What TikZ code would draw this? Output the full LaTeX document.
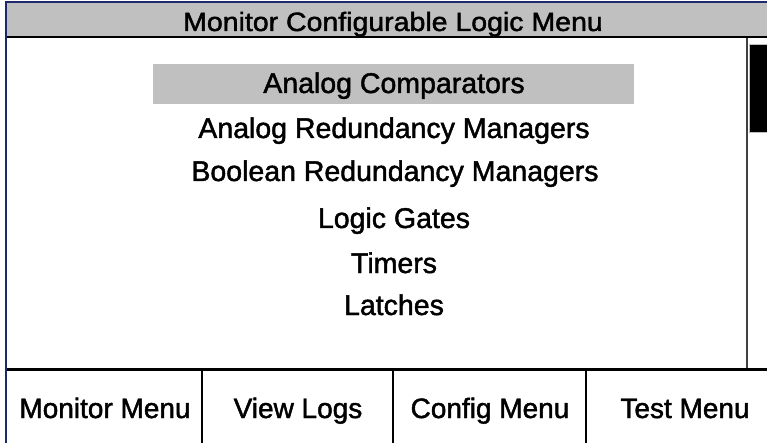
\documentclass[tikz,border=0pt]{standalone}
\usepackage{fontspec}
\setmainfont{Liberation Sans}
\newfontfamily\panelfont{Liberation Sans}[FakeBold=1.6]
\definecolor{bargray}{HTML}{C0C0C0}
\definecolor{navy}{HTML}{1C2A6B}
\tikzset{
  item/.style={anchor=base, inner sep=0pt, font=\panelfont\fontsize{28.5}{30}\selectfont},
  btn/.style={anchor=base, inner sep=0pt, font=\panelfont\fontsize{28}{30}\selectfont},
  sep/.style={line width=2pt, black},
}
\begin{document}
\begin{tikzpicture}[x=1pt,y=-1pt]
\useasboundingbox (0,0) rectangle (767,443);
% title bar
\fill[bargray] (7,3) rectangle (767,36);
\node[anchor=base, inner sep=0pt, font=\panelfont\fontsize{26.5}{28}\selectfont] (title) at (393,31) {\scalebox{1.075}[1]{Monitor Configurable Logic Menu}};
\draw[line width=2.5pt] (7,37) -- (767,37);
% outer border
\draw[navy, line width=2pt] (6,443) -- (6,2) -- (767,2);
% highlight
\fill[bargray] (153,64) rectangle (634,104);
\node[item] (i1) at (394,93) {Analog Comparators};
\node[item] (i2) at (394,138) {Analog Redundancy Managers};
\node[item] (i3) at (395,181) {Boolean Redundancy Managers};
\node[item] (i4) at (394,228) {Logic Gates};
\node[item] (i5) at (394,273) {Timers};
\node[item] (i6) at (394,315) {Latches};
% scrollbar
\draw[line width=2pt, black!75] (747,38) -- (747,368);
\fill[black!25] (748.5,44) rectangle (767,133);
\fill[black] (750,45) rectangle (767,132);
% bottom line
\draw[line width=3pt] (7,369) -- (767,369);
% button separators
\draw[sep] (202,369) -- (202,443);
\draw[sep] (393,369) -- (393,443);
\draw[sep] (586,369) -- (586,443);
\node[btn] (b1) at (105,418) {Monitor Menu};
\node[btn] (b2) at (298,418) {View Logs};
\node[btn] (b3) at (490,418) {Config Menu};
\node[btn] (b4) at (685,418) {Test Menu};
\end{tikzpicture}
\end{document}
